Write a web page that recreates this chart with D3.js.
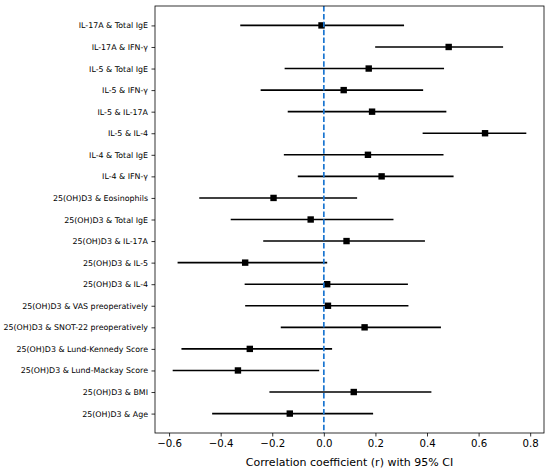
<!DOCTYPE html>
<html>
<head>
<meta charset="utf-8">
<script src="https://cdn.jsdelivr.net/npm/d3@7"></script>
<style>
  body { margin: 0; background: #fff; }
  text { font-family: "DejaVu Sans", sans-serif; fill: #000; }
</style>
</head>
<body>
<div id="chart"></div>
<script>
// forest plot of correlations, top to bottom
var labels = [
  'IL-17A & Total IgE', 'IL-17A & IFN-γ', 'IL-5 & Total IgE', 'IL-5 & IFN-γ',
  'IL-5 & IL-17A', 'IL-5 & IL-4', 'IL-4 & Total IgE', 'IL-4 & IFN-γ',
  '25(OH)D3 & Eosinophils', '25(OH)D3 & Total IgE', '25(OH)D3 & IL-17A',
  '25(OH)D3 & IL-5', '25(OH)D3 & IL-4', '25(OH)D3 & VAS preoperatively',
  '25(OH)D3 & SNOT-22 preoperatively', '25(OH)D3 & Lund-Kennedy Score',
  '25(OH)D3 & Lund-Mackay Score', '25(OH)D3 & BMI', '25(OH)D3 & Age'
];
var rValues = [-0.009, 0.484, 0.174, 0.077, 0.187, 0.625, 0.171, 0.224,
  -0.195, -0.051, 0.088, -0.305, 0.013, 0.016, 0.158, -0.287, -0.333, 0.116, -0.132];
var ciLow = [-0.324, 0.199, -0.152, -0.245, -0.140, 0.383, -0.155, -0.101,
  -0.483, -0.361, -0.235, -0.567, -0.307, -0.305, -0.167, -0.552, -0.586, -0.211, -0.433];
var ciHigh = [0.311, 0.695, 0.466, 0.385, 0.475, 0.785, 0.464, 0.503,
  0.129, 0.270, 0.392, 0.013, 0.326, 0.328, 0.454, 0.032, -0.018, 0.417, 0.191];
var xTicks = [-0.6, -0.4, -0.2, 0.0, 0.2, 0.4, 0.6, 0.8];

var W = 550, H = 470;
var mLeft = 155, mRight = 544, mTop = 6, mBottom = 433;

var svg = d3.select('#chart').append('svg')
  .attr('width', W)
  .attr('height', H);

// 5% margin like matplotlib
var lo = d3.min(ciLow), hi = d3.max(ciHigh), pad = (hi - lo) * 0.05;
var x = d3.scaleLinear().domain([lo - pad, hi + pad]).range([mLeft, mRight]);
var n = labels.length;
var y = d3.scaleLinear().domain([-0.05 * (n - 1), (n - 1) * 1.05]).range([mTop, mBottom]);

var rows = labels.map(function(d, i) {
  return { label: d, r: rValues[i], lo: ciLow[i], hi: ciHigh[i], i: i };
});

// y axis
var yAxis = d3.axisLeft(y)
  .tickValues(d3.range(n))
  .tickFormat(function(i) { return labels[i]; })
  .tickSizeInner(3.5).tickSizeOuter(0).tickPadding(3.5);
var gy = svg.append('g').attr('transform', 'translate(' + mLeft + ',0)').call(yAxis);
gy.select('.domain').remove();
gy.attr('font-family', null).attr('font-size', null);
gy.selectAll('text').style('font-size', '7.9px');
gy.selectAll('line').attr('stroke', '#000').attr('stroke-width', 0.8);

// x axis
var xAxis = d3.axisBottom(x)
  .tickValues(xTicks)
  .tickFormat(d3.format('.1f'))
  .tickSizeInner(3.5).tickSizeOuter(0).tickPadding(3.5);
var gx = svg.append('g').attr('transform', 'translate(0,' + mBottom + ')').call(xAxis);
gx.select('.domain').remove();
gx.attr('font-family', null).attr('font-size', null);
gx.selectAll('text').style('font-size', '10.2px');
gx.selectAll('line').attr('stroke', '#000').attr('stroke-width', 0.8);

svg.append('text')
  .attr('x', (mLeft + mRight) / 2)
  .attr('y', 465.5)
  .attr('text-anchor', 'middle')
  .style('font-size', '11px')
  .text('Correlation coefficient (r) with 95% CI');

// error bars
svg.selectAll('.ci').data(rows)
  .enter().append('line')
    .attr('class', 'ci')
    .attr('x1', function(d) { return x(d.lo); })
    .attr('x2', function(d) { return x(d.hi); })
    .attr('y1', function(d) { return y(d.i); })
    .attr('y2', function(d) { return y(d.i); })
    .attr('stroke', '#000')
    .attr('stroke-width', 1.6);

svg.selectAll('.pt').data(rows)
  .enter().append('rect')
    .attr('class', 'pt')
    .attr('x', function(d) { return x(d.r) - 3.2; })
    .attr('y', function(d) { return y(d.i) - 3.2; })
    .attr('width', 6.4)
    .attr('height', 6.4)
    .attr('fill', '#000');

// zero line
svg.append('line')
  .attr('x1', x(0)).attr('x2', x(0))
  .attr('y1', mTop).attr('y2', mBottom)
  .attr('stroke', '#1a75d0')
  .attr('stroke-width', 1.7)
  .attr('stroke-dasharray', '5.5,2.4');

// frame
svg.append('rect')
  .attr('x', mLeft).attr('y', mTop)
  .attr('width', mRight - mLeft).attr('height', mBottom - mTop)
  .attr('fill', 'none')
  .attr('stroke', '#000')
  .attr('stroke-width', 0.8);
</script>
</body>
</html>
